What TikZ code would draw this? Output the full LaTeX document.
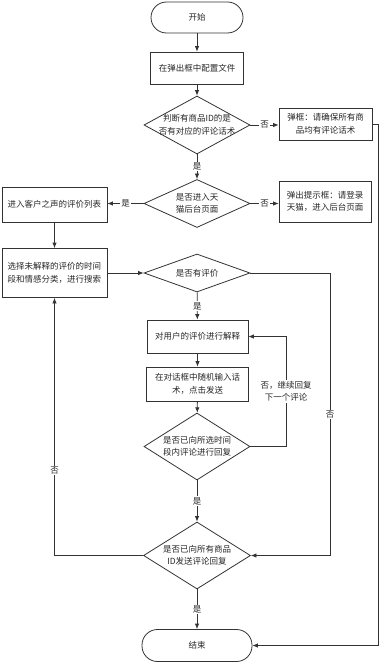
\documentclass[tikz,border=0pt]{standalone}
\usepackage{fontspec}
\setmainfont{Noto Sans CJK SC}
\usetikzlibrary{shapes.geometric,arrows.meta}
\begin{document}
\begin{tikzpicture}[x=1pt,y=-1pt,
  every node/.style={font=\fontsize{8.5}{12.5}\selectfont, text=black!85},
  box/.style={draw=black!80, line width=0.8pt, rectangle, inner sep=0pt, align=center},
  term/.style={box, rounded corners=15.5pt},
  dia/.style={draw=black!80, line width=0.8pt, diamond, inner sep=0pt},
  txt/.style={align=center, inner sep=0pt},
  lbl/.style={fill=white, inner sep=1pt, align=center},
  conn/.style={draw=black!80, line width=0.8pt, -{Latex[length=5.5pt,width=4.5pt]}}]
\useasboundingbox (0,0) rectangle (379,663);

\node[term, minimum width=92pt, minimum height=31pt] (start) at (197,17.5) {开始};
\node[box, minimum width=93pt, minimum height=32pt] (cfg) at (197,68) {在弹出框中配置文件};
\node[dia, minimum width=106pt, minimum height=58pt] (d1) at (197,125) {};
\node[txt] (d1t) at (d1) {判断有商品ID的是\\否有对应的评论话术};
\node[box, minimum width=93pt, minimum height=32pt] (w1) at (325.5,124) {弹框：请确保所有商\\品均有评论话术};
\node[dia, minimum width=106pt, minimum height=48pt] (d2) at (197,203.5) {};
\node[txt] (d2t) at (d2) {是否进入天\\猫后台页面};
\node[box, minimum width=105pt, minimum height=35pt] (l1) at (54.5,204.5) {进入客户之声的评价列表};
\node[box, minimum width=92pt, minimum height=41pt] (w2) at (325,201.5) {弹出提示框：请登录\\天猫，进入后台页面};
\node[box, minimum width=105pt, minimum height=49pt] (l2) at (54.5,273) {选择未解释的评价的时间\\段和情感分类，进行搜索};
\node[dia, minimum width=106pt, minimum height=38pt] (d3) at (197,273) {};
\node[txt] (d3t) at (d3) {是否有评价};
\node[box, minimum width=101pt, minimum height=33pt] (a1) at (197.5,336.5) {对用户的评价进行解释};
\node[box, minimum width=102pt, minimum height=34pt] (a2) at (197.5,384) {在对话框中随机输入话\\术，点击发送};
\node[dia, minimum width=106pt, minimum height=67pt] (d4) at (197,446.5) {};
\node[txt] (d4t) at (d4) {是否已向所选时间\\段内评论进行回复};
\node[dia, minimum width=107pt, minimum height=67pt] (d5) at (197,555.5) {};
\node[txt] (d5t) at (d5) {是否已向所有商品\\ID发送评论回复};
\node[term, minimum width=110pt, minimum height=32pt] (end) at (197,645.5) {结束};

\coordinate (rx) at (378,0);
\coordinate (c3) at (330,0);
\coordinate (c4) at (286,0);

\draw[conn] (start) -- (cfg);
\draw[conn] (cfg) -- (d1);
\draw[conn] (d1.east) -- node[lbl]{否} (d1.east -| w1.west);
\draw[conn] (d1) -- node[lbl]{是} (d2);
\draw[conn] (d2.west) -- node[lbl]{是} (d2.west -| l1.east);
\draw[conn] (d2.east) -- node[lbl]{否} (d2.east -| w2.west);
\draw[conn] (w1.east) -- (w1.east -| rx) -- (end.east -| rx) -- (end.east);
\draw[conn] (l1) -- (l2);
\draw[conn] (l2.east) -- (l2.east -| d3.west);
\draw[conn] (d3) -- node[lbl]{是} (a1);
\draw[conn] (a1) -- (a2);
\draw[conn] (a2) -- (d4);
\draw[conn] (d4) -- node[lbl]{是} (d5);
\draw[conn] (d5) -- node[lbl]{是} (end);
\draw[conn] (d4.east) -- (d4.east -| c4) -- node[lbl, pos=0.5]{否，继续回复\\下一个评论} (a1.east -| c4) -- (a1.east);
\draw[conn] (d3.east) -- (d3.east -| c3) -- node[lbl]{否} (d5.east -| c3) -- (d5.east);
\draw[conn] (d5.west) -- (d5.west -| l2.south) -- node[lbl, pos=0.33]{否} (l2.south);
\end{tikzpicture}
\end{document}
